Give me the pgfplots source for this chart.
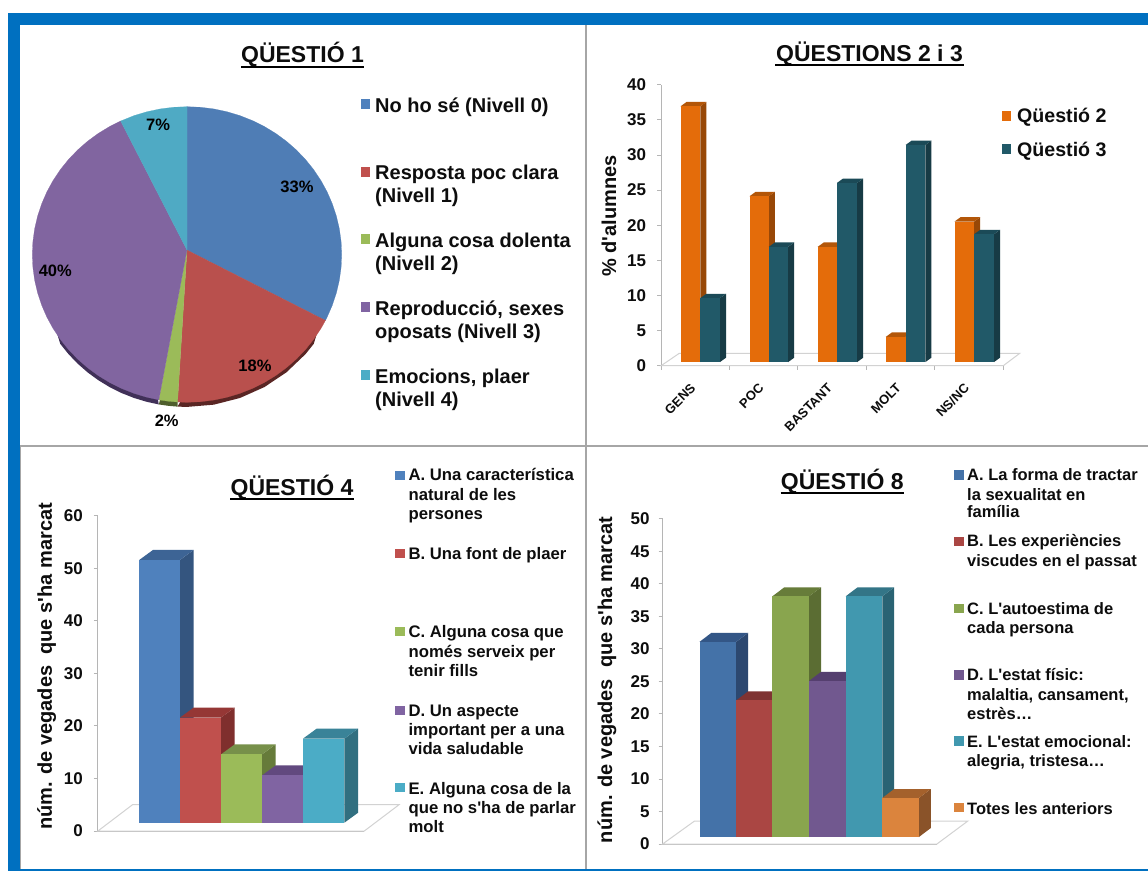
\documentclass[border=0pt]{standalone}
\usepackage{pgfplots}
\pgfplotsset{compat=1.18}
\usepgfplotslibrary{polar}
\usepackage{fontspec}
\setmainfont{Liberation Sans}[Ligatures=TeXOff]
\definecolor{frameblue}{HTML}{0070C0}
\definecolor{panelgray}{HTML}{A6A6A6}
\definecolor{axgray}{HTML}{B5B5B5}
\definecolor{floorgray}{HTML}{D2D2D2}
\definecolor{txt}{HTML}{0D0D0D}
% 3-D bars: x0, x1, value, front, side, top colours
\newcommand{\threedbar}[6]{%
  \pgfmathsetmacro\xxa{#1+\bdx}%
  \pgfmathsetmacro\xxb{#2+\bdx}%
  \pgfmathsetmacro\yya{\bbase+\bdy}%
  \pgfmathsetmacro\yyt{#3+\bbase}%
  \pgfmathsetmacro\yyb{#3+\bbase+\bdy}%
  \edef\temp{%
    \noexpand\addplot[fill=#5,draw=none,forget plot] coordinates {(#2,\bbase)(\xxb,\yya)(\xxb,\yyb)(#2,\yyt)} --cycle;
    \noexpand\addplot[fill=#6,draw=none,forget plot] coordinates {(#1,\yyt)(\xxa,\yyb)(\xxb,\yyb)(#2,\yyt)} --cycle;
    \noexpand\addplot[fill=#4,draw=none,forget plot] coordinates {(#1,\bbase)(#2,\bbase)(#2,\yyt)(#1,\yyt)} --cycle;
  }\temp}
\pgfplotsset{
  barchart/.style={
    scale only axis, clip=false, anchor=south west,
    axis lines=left, axis line style={-,draw=axgray,line width=0.9pt},
    tick style={draw=axgray,line width=0.9pt},
    tick align=outside, major tick length=4pt, minor tick length=4pt,
    ytick pos=left,
    yticklabel style={font=\fontsize{17}{17}\selectfont\bfseries,text=txt,xshift=-7.5pt},
    /pgf/number format/assume math mode=true,
    every axis y label/.style={at={(rel axis cs:0,0.5)},rotate=90,anchor=base,
      font=\fontsize{20}{20}\selectfont\bfseries,text=txt},
  }
}
\newcommand{\lt}[3]{\node[anchor=base west,inner sep=0pt,text=txt,font=\fontsize{\lfs}{\lfs}\selectfont\bfseries] at (#1,#2) {#3};}
\newcommand{\sq}[4]{\fill[#4] (#1,#2) rectangle ++(9.5,#3);}
\newcommand{\ttl}[5]{% centre x, baseline y, x0, x1, text
  \node[anchor=base,inner sep=0pt,text=txt,font=\fontsize{23}{23}\selectfont\bfseries] at (#1,#2) {#5};
  \draw[line width=1.9pt,black] (#3,#2+4.3) -- (#4,#2+4.3);}
\begin{document}
\begin{tikzpicture}
\path[use as bounding box,fill=white] (0pt,0pt) rectangle (1148pt,-871pt);
% frame
\begin{scope}[x=1pt,y=-1pt]
\draw[panelgray,line width=2pt] (586,25) -- (586,869);
\draw[panelgray,line width=2pt] (19,445.5) -- (1148,445.5);
\draw[panelgray,line width=1pt] (20.5,445.5) -- (20.5,869);
\fill[frameblue] (7.5,13.3) rectangle (1148,25.3);
\fill[frameblue] (7.5,13.3) rectangle (19.5,871);
\fill[frameblue] (7.5,869) rectangle (1148,871);
\end{scope}

% ---------- Q1 pie ----------
\begin{axis}[at={(32.3pt,-402.3pt)},anchor=south west,scale only axis,width=309.4pt,height=295.6pt,
  xmin=-1,xmax=1,ymin=-1,ymax=1,hide axis,clip=false]
% shadow
\addplot[fill={rgb,255:red,90;green,38;blue,36},draw=none,yshift=-4.6pt,data cs=polar] coordinates {(-30,0.975)(-35,1)(-40,1)(-50,1)(-60,1)(-70,1)(-80,1)(-90,1)(-93.5,1)(-60,0.5)} --cycle;
\addplot[fill={rgb,255:red,78;green,94;blue,44},draw=none,yshift=-4.6pt,data cs=polar] coordinates {(-93.5,1)(-97,1)(-100.5,1)(-97,0.5)} --cycle;
\addplot[fill={rgb,255:red,64;green,48;blue,88},draw=none,yshift=-4.6pt,data cs=polar] coordinates {(-100.5,1)(-105,1)(-110,1)(-115,1)(-120,1)(-125,1)(-130,1)(-135,1)(-140,1)(-145,1)(-150,0.975)(-125,0.5)} --cycle;
% wedges
\addplot[fill={rgb,255:red,79;green,125;blue,181},draw={rgb,255:red,79;green,125;blue,181},line width=0.2pt,data cs=polar] coordinates {(90,0.03)(90,1)(85,1)(80,1)(75,1)(70,1)(65,1)(60,1)(55,1)(50,1)(45,1)(40,1)(35,1)(30,1)(25,1)(20,1)(15,1)(10,1)(5,1)(0,1)(-5,1)(-10,1)(-15,1)(-20,1)(-25,1)(-26.5,1)} --cycle;
\addplot[fill={rgb,255:red,185;green,80;blue,77},draw={rgb,255:red,185;green,80;blue,77},line width=0.2pt,data cs=polar] coordinates {(90,0.03)(-26.5,1)(-30,1)(-35,1)(-40,1)(-45,1)(-50,1)(-55,1)(-60,1)(-65,1)(-70,1)(-75,1)(-80,1)(-85,1)(-90,1)(-93.5,1)} --cycle;
\addplot[fill={rgb,255:red,155;green,187;blue,89},draw={rgb,255:red,155;green,187;blue,89},line width=0.2pt,data cs=polar] coordinates {(90,0.03)(-93.5,1)(-97,1)(-100.5,1)} --cycle;
\addplot[fill={rgb,255:red,129;green,101;blue,160},draw={rgb,255:red,129;green,101;blue,160},line width=0.2pt,data cs=polar] coordinates {(90,0.03)(-100.5,1)(-105,1)(-110,1)(-115,1)(-120,1)(-125,1)(-130,1)(-135,1)(-140,1)(-145,1)(-150,1)(-155,1)(-160,1)(-165,1)(-170,1)(-175,1)(-180,1)(-185,1)(-190,1)(-195,1)(-200,1)(-205,1)(-210,1)(-215,1)(-220,1)(-225,1)(-230,1)(-235,1)(-240,1)(-244.6,1)} --cycle;
\addplot[fill={rgb,255:red,79;green,170;blue,196},draw={rgb,255:red,79;green,170;blue,196},line width=0.2pt,data cs=polar] coordinates {(90,0.03)(-244.6,1)(-250,1)(-255,1)(-260,1)(-265,1)(-270,1)} --cycle;
\end{axis}

% ---------- Q2 / Q3 ----------
\begin{axis}[barchart,at={(661.1pt,-365.7pt)},width=342.2pt,height=281pt,
  xmin=661.1,xmax=1003.3,ymin=0,ymax=40,ytick={0,5,...,40},
  xtick={695.2,763.5,832,900.6,969},
  xticklabels={GENS,POC,BASTANT,MOLT,NS/NC},
  minor xtick={661.1,729.3,797.6,866.5,934.7,1003.3},
  major x tick style={draw=none},
  xticklabel style={rotate=45,anchor=east,font=\fontsize{13}{13}\selectfont\bfseries,text=txt,yshift=-10pt,xshift=-9.5pt},
  ylabel={\% d'alumnes},
  every axis y label/.append style={xshift=9pt,yshift=45pt}]
\def\bdx{6}\def\bdy{0.62}\def\bbase{0.52}
\addplot[draw=floorgray,line width=1pt,forget plot] coordinates {(661.1,0)(1003.3,0)(1019.5,1.74)(679,1.74)} --cycle;
\definecolor{oF}{HTML}{E46C0A}\definecolor{oS}{HTML}{984807}\definecolor{oT}{HTML}{B35608}
\definecolor{tF}{HTML}{215968}\definecolor{tS}{HTML}{173B45}\definecolor{tT}{HTML}{1B4A57}
\threedbar{680.5}{700.3}{36.4}{oF}{oS}{oT}
\threedbar{700.3}{720}{9.1}{tF}{tS}{tT}
\threedbar{749.5}{768.8}{23.6}{oF}{oS}{oT}
\threedbar{768.8}{788.2}{16.4}{tF}{tS}{tT}
\threedbar{817.7}{837}{16.4}{oF}{oS}{oT}
\threedbar{837}{857.2}{25.5}{tF}{tS}{tT}
\threedbar{885.9}{905.6}{3.6}{oF}{oS}{oT}
\threedbar{905.6}{925.4}{30.9}{tF}{tS}{tT}
\threedbar{954.5}{974.2}{20}{oF}{oS}{oT}
\threedbar{974.2}{994}{18.2}{tF}{tS}{tT}
\end{axis}

% ---------- Q4 ----------
\begin{axis}[barchart,at={(97.9pt,-831pt)},width=266.4pt,height=315.3pt,
  xmin=97.9,xmax=364.3,ymin=0,ymax=60,ytick={0,10,...,60},xtick=\empty,
  ylabel={núm. de vegades\ \ que s'ha marcat},
  every axis y label/.append style={xshift=7pt,yshift=46pt}]
\def\bdx{13.7}\def\bdy{1.9}\def\bbase{1.585}
\addplot[draw=floorgray,line width=1pt,forget plot] coordinates {(97.9,0)(364.3,0)(399,5)(132.5,5)} --cycle;
\definecolor{aF}{HTML}{4F81BD}\definecolor{aS}{HTML}{34557F}\definecolor{aT}{HTML}{3D6495}
\definecolor{bF}{HTML}{C0504D}\definecolor{bS}{HTML}{7F2F2D}\definecolor{bT}{HTML}{953735}
\definecolor{cF}{HTML}{9BBB59}\definecolor{cS}{HTML}{667B3A}\definecolor{cT}{HTML}{77904A}
\definecolor{dF}{HTML}{8064A2}\definecolor{dS}{HTML}{54416C}\definecolor{dT}{HTML}{62497F}
\definecolor{eF}{HTML}{4BACC6}\definecolor{eS}{HTML}{316F80}\definecolor{eT}{HTML}{3A8398}
\threedbar{139.3}{180}{50}{aF}{aS}{aT}
\threedbar{180}{221}{20}{bF}{bS}{bT}
\threedbar{221}{262}{13}{cF}{cS}{cT}
\threedbar{262}{303}{9}{dF}{dS}{dT}
\threedbar{303}{344.4}{16}{eF}{eS}{eT}
\end{axis}

% ---------- Q8 ----------
\begin{axis}[barchart,at={(662.6pt,-844pt)},width=274.3pt,height=325.3pt,
  xmin=662.6,xmax=936.9,ymin=0,ymax=50,ytick={0,5,...,50},xtick=\empty,
  yticklabel style={xshift=2pt},
  ylabel={núm. de vegades\ \ que s'ha marcat},
  every axis y label/.append style={xshift=1.6pt,yshift=50.6pt}]
\def\bdx{11.9}\def\bdy{1.38}\def\bbase{1.076}
\addplot[draw=floorgray,line width=1pt,forget plot] coordinates {(662.6,0)(936.9,0)(967.8,3.53)(694.5,3.53)} --cycle;
\definecolor{gF}{HTML}{4472A8}\definecolor{gS}{HTML}{2C4870}\definecolor{gT}{HTML}{335686}
\definecolor{hF}{HTML}{AA4643}\definecolor{hS}{HTML}{772F2D}\definecolor{hT}{HTML}{7F3332}
\definecolor{iF}{HTML}{89A54E}\definecolor{iS}{HTML}{5B6D33}\definecolor{iT}{HTML}{677C3A}
\definecolor{jF}{HTML}{71588F}\definecolor{jS}{HTML}{4B3A60}\definecolor{jT}{HTML}{553F6F}
\definecolor{kF}{HTML}{4198AF}\definecolor{kS}{HTML}{2A6373}\definecolor{kT}{HTML}{337587}
\definecolor{lF}{HTML}{DB843D}\definecolor{lS}{HTML}{8A5329}\definecolor{lT}{HTML}{A4612C}
\threedbar{699.5}{736.2}{30}{gF}{gS}{gT}
\threedbar{736.2}{772.4}{21}{hF}{hS}{hT}
\threedbar{772.4}{809.1}{37}{iF}{iS}{iT}
\threedbar{809.1}{845.7}{24}{jF}{jS}{jT}
\threedbar{845.7}{882.3}{37}{kF}{kS}{kT}
\threedbar{882.3}{918.9}{6}{lF}{lS}{lT}
\end{axis}

% ---------- text ----------
\begin{scope}[x=1pt,y=-1pt]
\ttl{302.5}{62.7}{241}{364}{QÜESTIÓ 1}
\ttl{869.5}{61}{775}{964}{QÜESTIONS 2 i 3}
\ttl{292}{495}{230.3}{353.8}{QÜESTIÓ 4}
\ttl{842.3}{489}{780.7}{903.9}{QÜESTIÓ 8}
% pie labels
\foreach \x/\y/\t in {297/192/33\%,255/371.3/18\%,166.7/426.3/2\%,55.3/276/40\%,158/130.3/7\%}
  \node[anchor=base,inner sep=0pt,text=black,font=\fontsize{16.5}{16.5}\selectfont\bfseries] at (\x,\y) {\t};
% Q1 legend
\def\lfs{20}
\sq{360.5}{99}{10}{fill={rgb,255:red,79;green,129;blue,189}}
\lt{375}{112.3}{No ho sé (Nivell 0)}
\sq{360.5}{167.3}{10}{fill={rgb,255:red,192;green,80;blue,77}}
\lt{375}{179.3}{Resposta poc clara}
\lt{375}{202.7}{(Nivell 1)}
\sq{360.5}{234}{10}{fill={rgb,255:red,155;green,187;blue,89}}
\lt{375}{247.3}{Alguna cosa dolenta}
\lt{375}{270}{(Nivell 2)}
\sq{360.5}{301.7}{10}{fill={rgb,255:red,128;green,100;blue,162}}
\lt{375}{315}{Reproducció, sexes}
\lt{375}{338.3}{oposats (Nivell 3)}
\sq{360.5}{370}{10}{fill={rgb,255:red,75;green,172;blue,198}}
\lt{375}{383.3}{Emocions, plaer}
\lt{375}{406}{(Nivell 4)}
% Q2/3 legend
\def\lfs{19.6}
\sq{1001.5}{111}{10}{fill={rgb,255:red,228;green,108;blue,10}}
\lt{1017}{122.7}{Qüestió 2}
\sq{1001.5}{144.3}{10}{fill={rgb,255:red,33;green,89;blue,104}}
\lt{1017}{156.7}{Qüestió 3}
% Q4 legend
\def\lfs{16.7}
\sq{395}{471}{9.3}{fill={rgb,255:red,79;green,129;blue,189}}
\lt{408.4}{480.7}{A. Una característica}
\lt{408.4}{500}{natural de les}
\lt{408.4}{519}{persones}
\sq{395}{549}{9.3}{fill={rgb,255:red,192;green,80;blue,77}}
\lt{408.4}{559.3}{B. Una font de plaer}
\sq{395}{627}{9.3}{fill={rgb,255:red,155;green,187;blue,89}}
\lt{408.4}{637.3}{C. Alguna cosa que}
\lt{408.4}{657.3}{només serveix per}
\lt{408.4}{676}{tenir fills}
\sq{395}{705.7}{9.3}{fill={rgb,255:red,128;green,100;blue,162}}
\lt{408.4}{716}{D. Un aspecte}
\lt{408.4}{735}{important per a una}
\lt{408.4}{754}{vida saludable}
\sq{395}{783}{9.3}{fill={rgb,255:red,75;green,172;blue,198}}
\lt{408.4}{794}{E. Alguna cosa de la}
\lt{408.4}{813.3}{que no s'ha de parlar}
\lt{408.4}{832.3}{molt}
% Q8 legend
\def\lfs{16.5}
\sq{954}{470.3}{9.3}{fill={rgb,255:red,68;green,114;blue,168}}
\lt{967}{480}{A. La forma de tractar}
\lt{967}{500}{la sexualitat en}
\lt{967}{517.7}{família}
\sq{954}{537}{9.3}{fill={rgb,255:red,170;green,70;blue,67}}
\lt{967}{546.7}{B. Les experiències}
\lt{967}{566}{viscudes en el passat}
\sq{954}{603.7}{9.3}{fill={rgb,255:red,137;green,165;blue,78}}
\lt{967}{614}{C. L'autoestima de}
\lt{967}{633.3}{cada persona}
\sq{954}{670.3}{9.3}{fill={rgb,255:red,113;green,88;blue,143}}
\lt{967}{680.7}{D. L'estat físic:}
\lt{967}{700}{malaltia, cansament,}
\lt{967}{719}{estrès…}
\sq{954}{736.3}{9.3}{fill={rgb,255:red,65;green,152;blue,175}}
\lt{967}{747.3}{E. L'estat emocional:}
\lt{967}{766.7}{alegria, tristesa…}
\sq{954}{803}{9.3}{fill={rgb,255:red,219;green,132;blue,61}}
\lt{967}{814}{Totes les anteriors}
\end{scope}
\end{tikzpicture}
\end{document}
